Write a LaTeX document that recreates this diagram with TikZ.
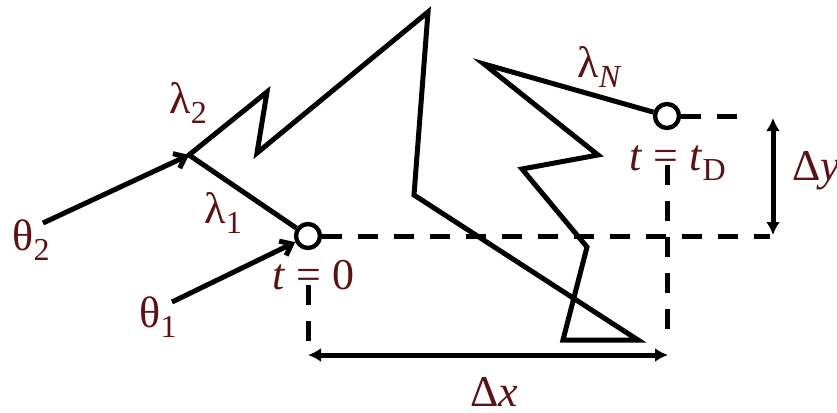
\documentclass[tikz,border=0pt]{standalone}
\usepackage{fontspec}
\setmainfont{Liberation Serif}
\usetikzlibrary{arrows.meta}
\definecolor{lblred}{RGB}{92,18,18}
\newcommand{\lo}[1]{\raisebox{-5pt}{\fontsize{16}{16}\selectfont #1}}

\begin{document}
\begin{tikzpicture}[x=0.5pt, y=-0.5pt, line width=2.5pt,
  endpt/.style={draw, circle, line width=2.2pt, minimum size=12pt, inner sep=0pt},
  lbl/.style={text=lblred, font=\fontsize{22}{24}\selectfont, inner sep=0pt,
              anchor=base west},
  guide/.style={dash pattern=on 10pt off 8pt},
  a/.style={-{Straight Barb[length=5pt,width=8pt]}},
  ab/.style={{Latex[length=6.5pt,width=7pt]}-{Latex[length=6.5pt,width=7pt]}}]

  \useasboundingbox (0,0) rectangle (837,413);

  % start and end of the walk
  \node[endpt] (start) at (308,236) {};
  \node[endpt] (stop)  at (667,116) {};

  % corners of the walk
  \coordinate (k1)  at (189,155);
  \coordinate (k2)  at (267,92);
  \coordinate (k3)  at (257,153);
  \coordinate (k4)  at (428,12);
  \coordinate (k5)  at (414,195);
  \coordinate (k6)  at (638,340);
  \coordinate (k7)  at (563,340);
  \coordinate (k8)  at (587,247);
  \coordinate (k9)  at (522,169);
  \coordinate (k10) at (598,155);
  \coordinate (k11) at (484,64);

  % free ends of the guides
  \coordinate (th2) at (43,223);
  \coordinate (th1) at (172,302);
  \coordinate (sdn) at (308,285);
  \coordinate (sbt) at (308,342);
  \coordinate (edn) at (667,165);
  \coordinate (ebt) at (667,342);
  \coordinate (xl)  at (308,355);
  \coordinate (xr)  at (668,355);
  \coordinate (sre) at (770,236);
  \coordinate (ere) at (750,116);
  \coordinate (yt)  at (773,118);
  \coordinate (yb)  at (773,235);

  \draw (start) -- (k1) -- (k2) -- (k3) -- (k4) -- (k5) -- (k6) -- (k7)
        -- (k8) -- (k9) -- (k10) -- (k11) -- (stop);

  \draw[a] (th2) -- (k1);
  \draw[a] (th1) -- (start);

  \draw[guide] (start) -- (sre);
  \draw[guide] (stop) -- (ere);
  \draw[guide] (sdn) -- (sbt);
  \draw[guide] (edn) -- (ebt);

  \draw[ab] (xl) -- (xr);
  \draw[ab] (yt) -- (yb);

  \node[lbl] (lth2) at (10,250)  {θ\lo{2}};
  \node[lbl] (lth1) at (137,327) {θ\lo{1}};
  \node[lbl] (lla2) at (167,113) {λ\lo{2}};
  \node[lbl] (lla1) at (202,223) {λ\lo{1}};
  \node[lbl] (llaN) at (575,77)  {λ\lo{\textit{N}}};
  \node[lbl] (lt0)  at (270,289) {\textit{t} = 0};
  \node[lbl] (ltD)  at (627,170) {\textit{t} = \textit{t}\lo{D}};
  \node[lbl] (ldx)  at (468,406) {Δ\textit{x}};
  \node[lbl] (ldy)  at (790,180) {Δ\textit{y}};

\end{tikzpicture}
\end{document}
